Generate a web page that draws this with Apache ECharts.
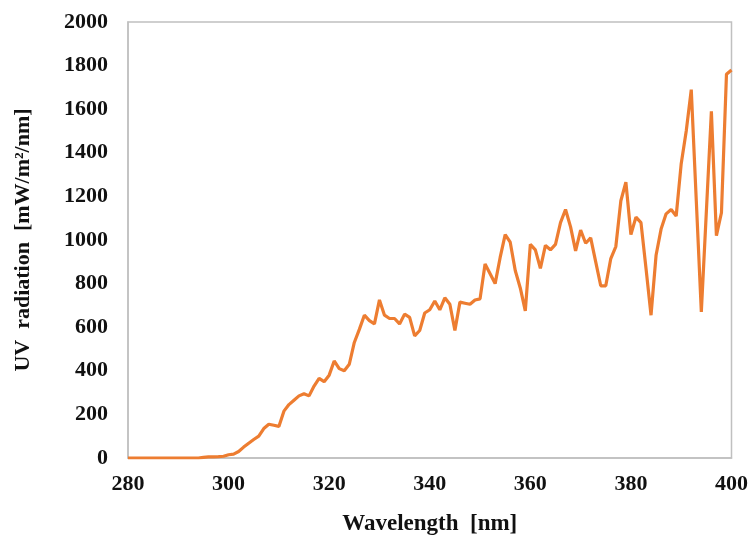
<!DOCTYPE html>
<html>
<head>
<meta charset="utf-8">
<script src="https://cdn.jsdelivr.net/npm/echarts@6/dist/echarts.min.js"></script>
<style>html,body{margin:0;padding:0;background:#fff;}#c{width:751px;height:541px;}</style>
</head>
<body>
<div id="c"></div>
<script>
const wavelengthStart = 280;
const radiation = [
  0,0,0,0,0,0,0,0,0,0,           // 280-289
  0,0,0,0,0,3,5,5,6,8,           // 290-299
  15,18,30,50,68,85,100,135,155,150, // 300-309
  145,215,245,265,285,295,285,330,365,350, // 310-319
  380,445,410,400,430,530,590,655,630,615, // 320-329
  725,655,640,640,615,660,645,560,585,665, // 330-339
  680,720,680,735,705,585,715,710,705,725, // 340-349
  730,890,845,800,920,1025,990,860,780,675, // 350-359
  980,955,870,975,955,980,1080,1140,1060,950, // 360-369
  1045,985,1010,900,790,790,915,970,1180,1265, // 370-379
  1025,1105,1080,870,655,930,1050,1120,1140,1110, // 380-389
  1350,1500,1690,1180,670,1130,1590,1020,1125,1760, // 390-399
  1780 // 400
];
const xTicks = [280,300,320,340,360,380,400];
const yTicks = [0,200,400,600,800,1000,1200,1400,1600,1800,2000];
const xTitle = 'Wavelength  [nm]';
const yTitle = 'UV  radiation  [mW/m²/nm]';

const data = radiation.map((v,i)=>[wavelengthStart+i, v]);
const font = 'Liberation Serif, Times New Roman, serif';
const chart = echarts.init(document.getElementById('c'));
chart.setOption({
  animation:false,
  backgroundColor:'#fff',
  grid:{left:128,right:19,top:22,bottom:82,show:true,borderColor:'#c0c0c0',borderWidth:1.5},
  xAxis:{type:'value',min:xTicks[0],max:xTicks[xTicks.length-1],interval:20,
    name:xTitle,nameLocation:'middle',nameGap:55,
    nameTextStyle:{fontFamily:font,fontWeight:'bold',fontSize:23,color:'#111'},
    axisLine:{lineStyle:{color:'#c0c0c0',width:1.5}},
    axisTick:{show:false},splitLine:{show:false},
    axisLabel:{fontFamily:font,fontWeight:'bold',fontSize:22,color:'#111',margin:15,
      formatter:v=>String(v)}},
  yAxis:{type:'value',min:yTicks[0],max:yTicks[yTicks.length-1],interval:200,
    name:yTitle,nameLocation:'middle',nameGap:94,nameRotate:90,
    nameTextStyle:{fontFamily:font,fontWeight:'bold',fontSize:22,color:'#111'},
    axisLine:{show:true,lineStyle:{color:'#c0c0c0',width:1.5}},
    axisTick:{show:false},splitLine:{show:false},
    axisLabel:{fontFamily:font,fontWeight:'bold',fontSize:22,color:'#111',margin:20,
      formatter:v=>String(v)}},
  series:[{type:'line',data:data,showSymbol:false,
    lineStyle:{color:'#ed7d31',width:3.2},itemStyle:{color:'#ed7d31'}}]
});
</script>
</body>
</html>
